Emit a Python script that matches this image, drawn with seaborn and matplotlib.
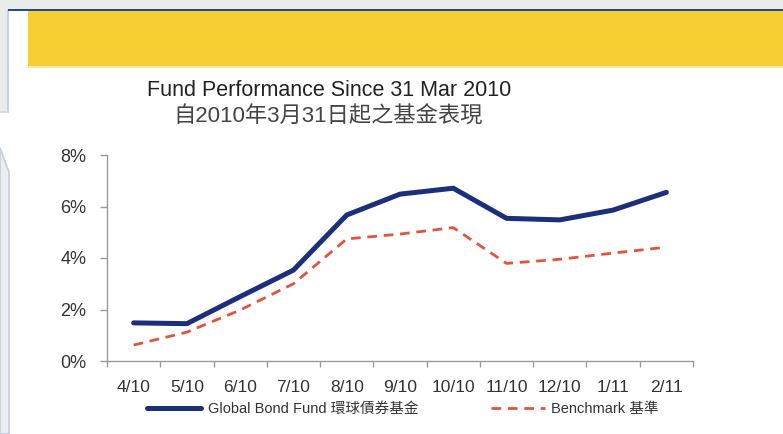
import numpy as np
import pandas as pd
import matplotlib
matplotlib.use("Agg")
import matplotlib.pyplot as plt
from matplotlib.patches import Rectangle, Polygon
from matplotlib.ticker import FixedLocator, FuncFormatter
import seaborn as sns

# values (cumulative return, %)
months = ["4/10", "5/10", "6/10", "7/10", "8/10", "9/10", "10/10", "11/10", "12/10", "1/11", "2/11"]
fund = [1.48, 1.45, 2.50, 3.53, 5.67, 6.48, 6.71, 5.54, 5.48, 5.86, 6.55]
benchmark = [0.62, 1.12, 1.98, 3.00, 4.74, 4.93, 5.18, 3.79, 3.95, 4.19, 4.42]
y_ticks = [0, 2, 4, 6, 8]

title_en = "Fund Performance Since 31 Mar 2010"
title_zh = "自2010年3月31日起之基金表現"
fund_label = "Global Bond Fund 環球債券基金"
bench_label = "Benchmark 基準"

sns.set_theme(style="white")
plt.rcParams["font.family"] = ["Liberation Sans", "Noto Sans CJK TC", "DejaVu Sans"]

W, H = 783, 434
fig = plt.figure(figsize=(W / 100, H / 100), dpi=100, facecolor="white")


def px_rect(x0, y0, x1, y1, **kw):
    # rectangle given in pixel coords measured from the top-left corner
    r = Rectangle((x0 / W, 1 - y1 / H), (x1 - x0) / W, (y1 - y0) / H,
                  transform=fig.transFigure, figure=fig, **kw)
    fig.patches.append(r)


def px_poly(pts, **kw):
    p = Polygon([(x / W, 1 - y / H) for x, y in pts], closed=True,
                transform=fig.transFigure, figure=fig, **kw)
    fig.patches.append(p)


# page decoration around the chart
px_rect(0, 0, W, 9, facecolor="#e9eceb", edgecolor="none")
px_poly([(0, 0), (8, 0), (8, 112), (0, 112)], facecolor="#e9eceb", edgecolor="none")
px_rect(7, 9, 9, 112, facecolor="#c8d0e4", edgecolor="none")
px_rect(0, 111, 9, 113, facecolor="#d6dbe3", edgecolor="none")
px_rect(8, 9, W, 11, facecolor="#1d4f8e", edgecolor="none")
px_rect(28, 11, W, 66, facecolor="#f8cf33", edgecolor="none")
px_rect(28, 66, W, 68, facecolor="#fbe9a6", edgecolor="none")
px_poly([(0, 148), (9, 172), (9, H), (0, H)], facecolor="#eceeed",
        edgecolor="#c5cde2", linewidth=1.2)

fig.text(329 / W, 1 - 91 / H, title_en, ha="center", va="center",
         fontsize=15.5, color="#222222")
fig.text(328 / W, 1 - 117 / H, title_zh, ha="center", va="center",
         fontsize=16, color="#444444")

ax = fig.add_axes([107 / W, 1 - 361 / H, (693 - 107) / W, (361 - 155) / H])
ax.set_facecolor("none")

df = pd.DataFrame({"month": months, "fund": fund, "benchmark": benchmark})

sns.lineplot(data=df, x="month", y="fund", sort=False, ax=ax, color="#1c2f7a",
             linewidth=3.6, label=fund_label, solid_joinstyle="round")
sns.lineplot(data=df, x="month", y="benchmark", sort=False, ax=ax, color="#e5533d",
             linewidth=2.0, dashes=False, label=bench_label)
ax.lines[1].set_dashes([3.5, 2.4])

ax.set_xlim(-0.5, len(months) - 0.5)
ax.set_ylim(0, 8)
ax.set_xlabel("")
ax.set_ylabel("")

ax.yaxis.set_major_locator(FixedLocator(y_ticks))
ax.yaxis.set_major_formatter(FuncFormatter(lambda v, _: f"{v:.0f}%"))
ax.set_xticks(range(len(months)))
ax.set_xticklabels(months)
ax.set_xticks(np.arange(-0.5, len(months)), minor=True)

for side in ["top", "right"]:
    ax.spines[side].set_visible(False)
for side in ["left", "bottom"]:
    ax.spines[side].set_color("#9a9a9a")
    ax.spines[side].set_linewidth(1.0)

ax.tick_params(axis="y", which="major", left=True, length=5, width=1, color="#9a9a9a",
               pad=10, labelsize=13, labelcolor="#333333")
ax.tick_params(axis="x", which="major", bottom=False, length=0, pad=14,
               labelsize=12.5, labelcolor="#333333")
ax.tick_params(axis="x", which="minor", bottom=True, length=4, width=1, color="#9a9a9a")

ax.get_legend().remove()
handles, labels = ax.get_legend_handles_labels()
fig.legend(handles, labels, loc="center", bbox_to_anchor=(403 / W, 1 - 409 / H),
           ncol=2, frameon=False, fontsize=10.5, handlelength=3.7,
           handletextpad=0.45, columnspacing=5.0, labelcolor="#333333")

fig.savefig("out.png", dpi=100, facecolor="white")
